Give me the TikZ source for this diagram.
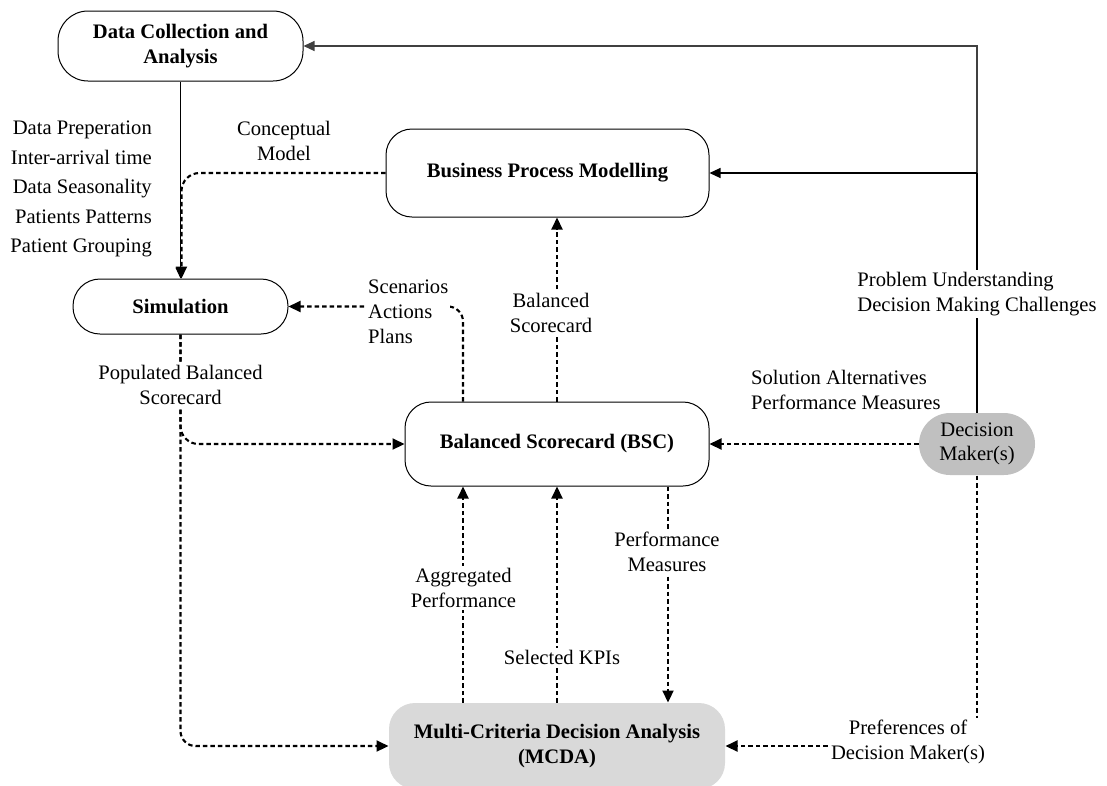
\documentclass[tikz,border=0pt]{standalone}
\usepackage{fontspec}
\setmainfont{Liberation Serif}
\usetikzlibrary{arrows.meta}

\definecolor{mcdagray}{HTML}{D9D9D9}
\definecolor{dmgray}{HTML}{C0C0C0}

\begin{document}
\begin{tikzpicture}[x=1pt,y=-1pt,
  font=\fontsize{20.6}{25}\selectfont,
  box/.style={draw=black, line width=1pt, rounded corners=#1, inner sep=0pt,
    align=center, font=\fontsize{20.6}{25}\selectfont\bfseries},
  solidarrow/.style={draw=black, line width=1.1pt, -{Triangle[length=11pt,width=10pt]}},
  dasharrow/.style={draw=black, line width=2.1pt, dash pattern=on 4.5pt off 3pt,
    -{Triangle[length=12pt,width=11pt]}},
  lbl/.style={fill=white, inner sep=2pt, align=center},
  plainlbl/.style={inner sep=2pt}
]
\useasboundingbox (0,0) rectangle (1107,785);

% main blocks
\node[box=30pt, minimum width=245pt, minimum height=70pt] (dc) at (180.5,46)
  {Data Collection and\\Analysis};
\node[box=27pt, minimum width=215pt, minimum height=55pt] (sim) at (180.5,306.5)
  {Simulation};
\node[box=26pt, minimum width=323pt, minimum height=88pt] (bpm) at (547.5,173)
  {Business Process Modelling};
\node[box=26pt, minimum width=304pt, minimum height=84pt] (bsc) at (557,444)
  {Balanced Scorecard (BSC)};
\node[box=26pt, draw=none, fill=mcdagray, minimum width=336pt, minimum height=86pt] (mcda) at (557,746)
  {Multi-Criteria Decision Analysis\\(MCDA)};
\node[box=31pt, draw=none, fill=dmgray, font=\fontsize{20.6}{24}\selectfont,
  minimum width=116pt, minimum height=62pt] (dm) at (977,444)
  {Decision\\Maker(s)};

% feedback from the decision makers (solid)
\draw[line width=1.1pt, black!75, -{Triangle[length=11pt,width=10pt]}]
  (dm.north |- bpm.east) |- (dc.east);
\draw[line width=1.1pt] (dm.north) -- (dm.north |- bpm.east);
\draw[solidarrow] (dm.north |- bpm.east) -- (bpm.east);
\draw[solidarrow] (dc.south) -- (sim.north);

% dashed information flows
\draw[dasharrow, rounded corners=18pt] (bpm.west) -| ([xshift=1pt]sim.north);
\draw[dasharrow, rounded corners=15pt] ([xshift=-94pt]bsc.north) |- (sim.east);
\draw[dasharrow] (bsc.north) -- (bsc.north |- bpm.south);
\draw[dasharrow, rounded corners=18pt] (sim.south) |- (bsc.west);
\draw[dasharrow, rounded corners=15pt] (sim.south) |- (mcda.west);
\draw[dasharrow] ([xshift=-94pt]mcda.north) -- ([xshift=-94pt]bsc.south);
\draw[dasharrow] (mcda.north) -- (bsc.south);
\draw[dasharrow] ([xshift=111pt]bsc.south) -- ([xshift=111pt]mcda.north);
\draw[dasharrow] (dm.west) -- (bsc.east);
\draw[dasharrow] (dm.south) |- (mcda.east);

% labels
\node[plainlbl, anchor=east, align=right, font=\fontsize{20.6}{29.5}\selectfont] (prep) at (154,189)
  {Data Preperation\\Inter-arrival time\\Data Seasonality\\Patients Patterns\\Patient Grouping};
\node[plainlbl, align=center] (concept) at (284,141) {Conceptual\\Model};
\node[lbl, anchor=west, align=left] (scen) at (366,312) {Scenarios\\Actions\\Plans};
\node[lbl] (pop) at (180.5,385) {Populated Balanced\\Scorecard};
\node[lbl] (bscl) at (551,313) {Balanced\\Scorecard};
\node[lbl, align=left] (prob) at (977,294) {Problem Understanding\\Decision Making Challenges};
\node[plainlbl, anchor=west, align=left] (sol) at (749,390) {Solution Alternatives\\Performance Measures};
\node[lbl] (agg) at (463.5,588) {Aggregated\\Performance};
\node[lbl] (kpi) at (562,657) {Selected KPIs};
\node[lbl] (perf) at (667,552) {Performance\\Measures};
\node[lbl] (pref) at (908,742) {Preferences of\\Decision Maker(s)};
\end{tikzpicture}
\end{document}
